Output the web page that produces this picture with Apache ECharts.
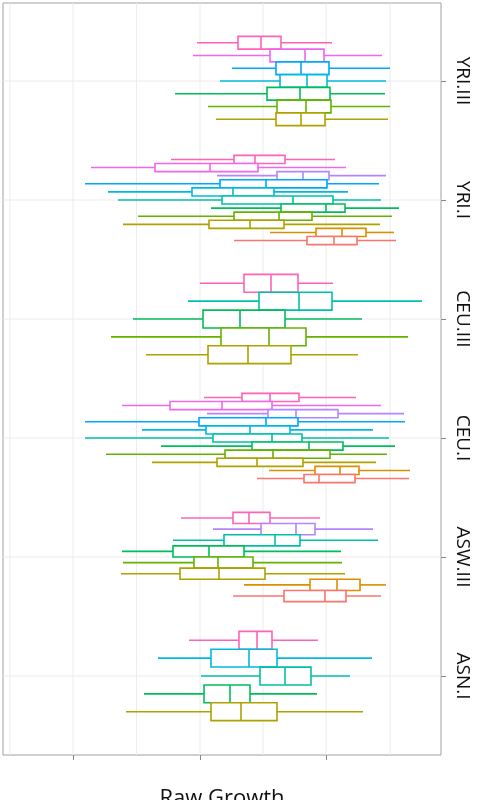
<!DOCTYPE html>
<html><head><meta charset="utf-8">
<script src="https://cdn.jsdelivr.net/npm/echarts@6/dist/echarts.min.js"></script>
<style>html,body{margin:0;padding:0;background:#fff}#c{width:479px;height:800px}</style>
</head><body><div id="c"></div>
<script>
// Category labels and their positions on the (flipped) category scale
const categories = ['YRI.III','YRI.I','CEU.III','CEU.I','ASW.III','ASN.I'];
const categoryPos = [81,200,319,438,557,676];
const xTicks = [73,200,326];
const xGrid = [10,73,136.5,200,263,326,390];
const palette = ['#F8766D','#DB8E00','#AEA200','#64B200','#00BD5C','#00C1A7','#00BADE','#00A6FF','#B385FF','#EF67EB','#FF63B6'];
// rows per group, top to bottom: [colorIndex, low, q1, median, q3, high]
const yriIII = [[10,197,238,261,281,332],[9,193,270,305,324,382],[7,232,276,301,329,390],[6,220,280,307,327,386],[4,175,267,300,330,385],[3,208,277,306,331,390],[2,216,276,301,325,388]];
const yriI = [[10,171,234,255,285,335],[9,91,155,210,258,346],[8,217,277,303,329,386],[7,85,220,266,327,379],[6,108,192,233,274,348],[5,118,222,293,333,381],[4,211,281,326,345,399],[3,138,234,279,312,392],[2,123,209,250,284,380],[1,270,316,342,366,394],[0,234,307,334,357,396]];
const ceuIII = [[10,200,244,271,298,333],[5,188,259,299,332,422],[4,133,203,240,285,362],[3,111,221,269,306,408],[2,146,208,248,291,358]];
const ceuI = [[10,204,242,270,299,356],[9,122,170,222,272,381],[8,207,268,296,338,404],[7,85,199,266,298,405],[6,142,206,250,290,373],[5,85,213,272,302,389],[4,161,252,309,343,395],[3,106,225,273,330,387],[2,152,217,257,303,376],[1,269,315,340,359,410],[0,257,304,319,355,409]];
const aswIII = [[10,181,233,249,270,320],[8,213,261,296,315,373],[5,173,224,275,300,378],[4,122,173,209,244,341],[3,123,194,218,253,342],[2,121,180,219,265,345],[1,244,310,337,360,386],[0,233,284,325,346,381]];
const asnI = [[10,189,239,257,272,318],[6,158,211,249,277,372],[5,201,260,285,311,350],[4,144,204,230,250,317],[2,126,211,241,277,363]];
const groups = [yriIII, yriI, ceuIII, ceuI, aswIII, asnI];

const band = 119*0.75;
const boxes = [];
groups.forEach((rows,g)=>{
  const n = rows.length, w = band/n, c = categoryPos[g];
  rows.forEach((r,i)=>{
    boxes.push([c - band/2 + (i+0.5)*w, r[1], r[2], r[3], r[4], r[5], w, palette[r[0]]]);
  });
});

const chart = echarts.init(document.getElementById('c'));
chart.setOption({
  animation:false,
  grid:{left:3,right:38,top:3,bottom:45,outerBoundsMode:'none',containLabel:false,show:true,borderColor:'#a0a0a0',borderWidth:1,backgroundColor:'#fff'},
  xAxis:{type:'value',min:3,max:441,name:'Raw Growth',nameLocation:'middle',nameGap:33,
    nameTextStyle:{fontSize:22,color:'#111',fontFamily:'Open Sans'},
    axisLine:{show:false},splitLine:{show:false},
    axisTick:{show:true,customValues:xTicks,length:5,lineStyle:{color:'#888'}},
    axisLabel:{show:false}},
  yAxis:{type:'value',inverse:true,min:3,max:755,position:'right',
    axisLine:{show:false},splitLine:{show:false},
    axisTick:{show:true,customValues:categoryPos,length:5,lineStyle:{color:'#888'}},
    axisLabel:{show:true,customValues:categoryPos,rotate:-90,margin:12,fontSize:19,color:'#111',fontFamily:'Open Sans',
      formatter:v=>categories[categoryPos.indexOf(v)]}},
  series:[
    {type:'custom',silent:true,z:1,data:[0],
     renderItem:(p,api)=>{
       const ch=[];
       xGrid.forEach(x=>{const a=api.coord([x,3]),b=api.coord([x,755]);
         ch.push({type:'line',shape:{x1:a[0],y1:a[1],x2:b[0],y2:b[1]},style:{stroke:'#ececec',lineWidth:1}});});
       categoryPos.forEach(y=>{const a=api.coord([3,y]),b=api.coord([441,y]);
         ch.push({type:'line',shape:{x1:a[0],y1:a[1],x2:b[0],y2:b[1]},style:{stroke:'#ececec',lineWidth:1}});});
       return {type:'group',children:ch};
     }},
    {type:'custom',z:2,data:boxes,
     renderItem:(p,api)=>{
       const d=boxes[p.dataIndex];
       const y=d[0],h=d[6],col=d[7];
       const pLo=api.coord([d[1],y]),pQ1=api.coord([d[2],y]),pMed=api.coord([d[3],y]),pQ3=api.coord([d[4],y]),pHi=api.coord([d[5],y]);
       const top=api.coord([d[2],y-h/2])[1],bot=api.coord([d[2],y+h/2])[1];
       const st={stroke:col,lineWidth:1.6,fill:null};
       return {type:'group',children:[
         {type:'line',shape:{x1:pLo[0],y1:pLo[1],x2:pQ1[0],y2:pQ1[1]},style:st},
         {type:'line',shape:{x1:pQ3[0],y1:pQ3[1],x2:pHi[0],y2:pHi[1]},style:st},
         {type:'rect',shape:{x:pQ1[0],y:top,width:pQ3[0]-pQ1[0],height:bot-top},style:{stroke:col,lineWidth:1.6,fill:'#fff'}},
         {type:'line',shape:{x1:pMed[0],y1:top,x2:pMed[0],y2:bot},style:st}
       ]};
     }}
  ]
});
</script></body></html>
